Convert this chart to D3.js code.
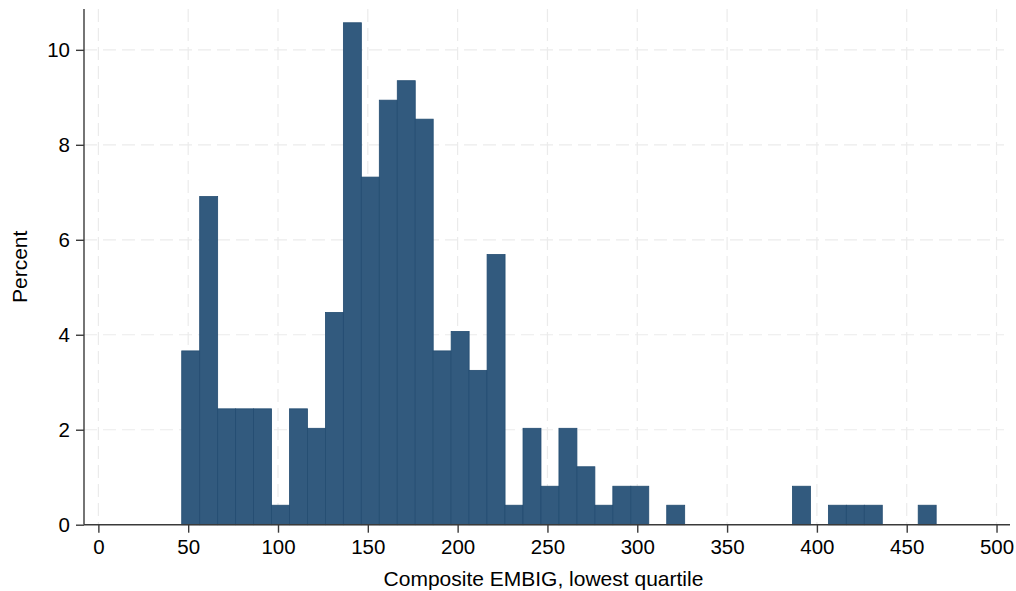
<!DOCTYPE html>
<html>
<head>
<meta charset="utf-8">
<script src="https://cdn.jsdelivr.net/npm/d3@7"></script>
<style>
  html, body { margin: 0; padding: 0; background: #fff; }
  svg { display: block; font-family: "Liberation Sans", Arial, sans-serif; }
</style>
</head>
<body>
<svg id="chart" width="1016" height="591"></svg>
<script>
// ---- data ----
const binWidth = 10;
const binStarts = [46.4, 56.4, 66.4, 76.4, 86.4, 96.4, 106.4, 116.4, 126.4, 136.4,
                   146.4, 156.4, 166.4, 176.4, 186.4, 196.4, 206.4, 216.4, 226.4, 236.4,
                   246.4, 256.4, 266.4, 276.4, 286.4, 296.4, 306.4, 316.4, 326.4, 336.4,
                   346.4, 356.4, 366.4, 376.4, 386.4, 396.4, 406.4, 416.4, 426.4, 436.4,
                   446.4, 456.4];
const percents = [3.66, 6.91, 2.44, 2.44, 2.44, 0.41, 2.44, 2.03, 4.47, 10.57,
                  7.32, 8.94, 9.35, 8.54, 3.66, 4.07, 3.25, 5.69, 0.41, 2.03,
                  0.81, 2.03, 1.22, 0.41, 0.81, 0.81, 0, 0.41, 0, 0,
                  0, 0, 0, 0, 0.81, 0, 0.41, 0.41, 0.41, 0,
                  0, 0.41];
const xTicks = [0, 50, 100, 150, 200, 250, 300, 350, 400, 450, 500];
const yTicks = [0, 2, 4, 6, 8, 10];
const xTitle = "Composite EMBIG, lowest quartile";
const yTitle = "Percent";

(function () {
  const svg = d3.select("#chart");
  const pl = 84, pr = 1010, pt = 9, pb = 524.7;

  const x = d3.scaleLinear().domain([-8, 507.5]).range([pl, pr]);
  const y = d3.scaleLinear().domain([0, 10.86]).range([pb, pt]);

  const gridColor = "#ebebeb";
  const axisColor = "#3a3a3a";

  // gridlines
  const grid = svg.append("g");
  grid.selectAll("line.h").data(yTicks.filter(d => d > 0)).join("line")
    .attr("class", "h")
    .attr("x1", pl).attr("x2", 1004)
    .attr("y1", d => y(d)).attr("y2", d => y(d))
    .attr("stroke", gridColor).attr("stroke-width", 1.2)
    .attr("stroke-dasharray", "13,6");
  grid.selectAll("line.v").data(xTicks).join("line")
    .attr("class", "v")
    .attr("x1", d => x(d)).attr("x2", d => x(d))
    .attr("y1", pt).attr("y2", pb)
    .attr("stroke", gridColor).attr("stroke-width", 1.2)
    .attr("stroke-dasharray", "13,6");

  // bars
  const data = binStarts.map((s, i) => ({ x0: s, x1: s + binWidth, p: percents[i] }));
  svg.append("g").selectAll("rect").data(data.filter(d => d.p > 0)).join("rect")
    .attr("x", d => x(d.x0))
    .attr("width", d => x(d.x1) - x(d.x0))
    .attr("y", d => y(d.p))
    .attr("height", d => y(0) - y(d.p))
    .attr("fill", "#325a7e")
    .attr("stroke", "#234c71")
    .attr("stroke-width", 0.8);

  // x axis
  const xAxis = svg.append("g").attr("transform", `translate(0,${pb})`)
    .call(d3.axisBottom(x).tickValues(xTicks).tickSize(8).tickPadding(7).tickSizeOuter(0));
  xAxis.select(".domain").remove();
  xAxis.append("line").attr("x1", pl).attr("x2", pr).attr("y1", 0).attr("y2", 0)
    .attr("stroke", axisColor).attr("stroke-width", 1.4);
  xAxis.selectAll(".tick line").attr("stroke", axisColor).attr("stroke-width", 1.4);
  xAxis.selectAll(".tick text").attr("fill", "#000").style("font-size", "20.5px")
    .style("font-family", "'Liberation Sans', Arial, sans-serif");

  // y axis
  const yAxis = svg.append("g").attr("transform", `translate(${pl},0)`)
    .call(d3.axisLeft(y).tickValues(yTicks).tickSize(8).tickPadding(6).tickSizeOuter(0));
  yAxis.select(".domain").remove();
  yAxis.append("line").attr("x1", 0).attr("x2", 0).attr("y1", pt).attr("y2", pb)
    .attr("stroke", axisColor).attr("stroke-width", 1.4);
  yAxis.selectAll(".tick line").attr("stroke", axisColor).attr("stroke-width", 1.4);
  yAxis.selectAll(".tick text").attr("fill", "#000").style("font-size", "20.5px")
    .style("font-family", "'Liberation Sans', Arial, sans-serif");

  // titles
  svg.append("text")
    .attr("x", (x(0) + x(500)) / 2 - 4).attr("y", 586)
    .attr("text-anchor", "middle").attr("fill", "#000")
    .style("font-size", "21px").text(xTitle);
  svg.append("text")
    .attr("transform", `translate(27,${(pt + pb) / 2}) rotate(-90)`)
    .attr("text-anchor", "middle").attr("fill", "#000")
    .style("font-size", "21px").text(yTitle);
})();
</script>
</body>
</html>
